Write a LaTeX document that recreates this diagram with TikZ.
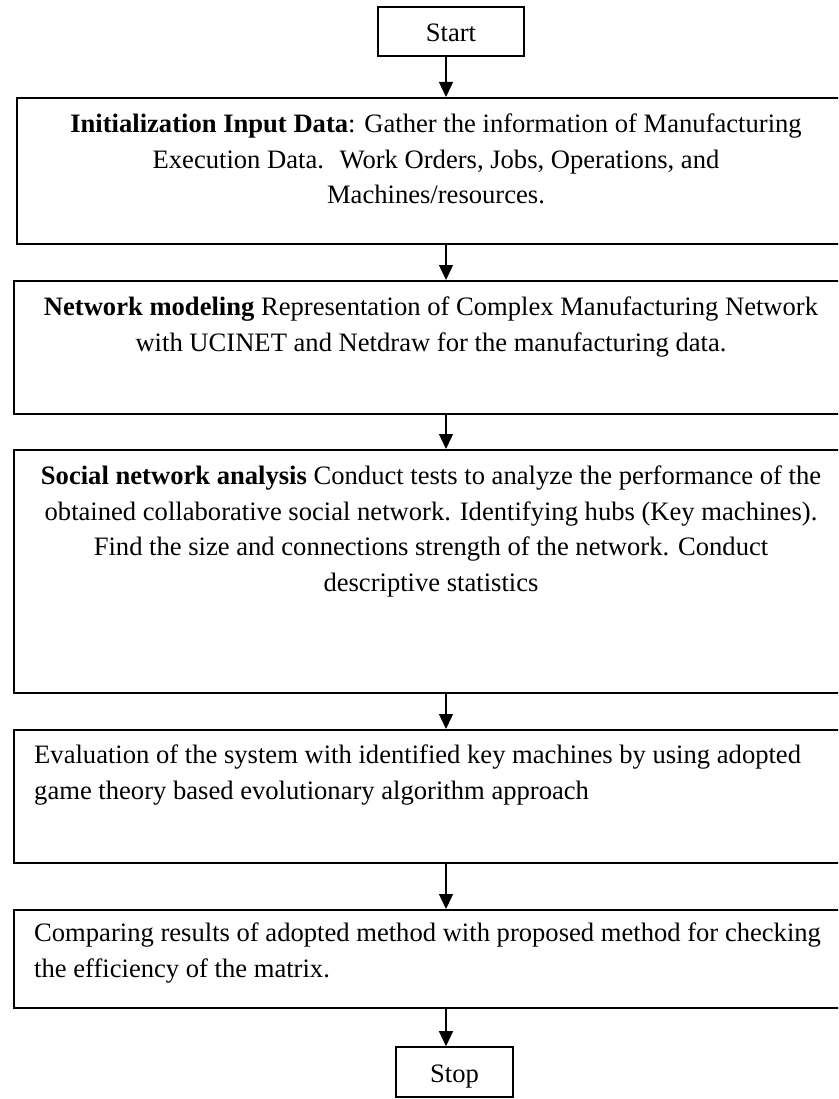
\documentclass[tikz,border=0pt]{standalone}
\usepackage{fontspec}
\setmainfont{Liberation Serif}
\usetikzlibrary{arrows.meta}
\begin{document}
\begin{tikzpicture}[x=1pt,y=-1pt,
  every node/.style={font=\fontsize{26.6}{35.5}\selectfont},
  terminal/.style={draw,line width=1.6pt,inner sep=0pt,text height=20.5pt,text depth=0pt},
  stepbox/.style={draw,line width=1.6pt,inner sep=0pt,anchor=north west,minimum width=867pt},
  ctext/.style={inner sep=0pt,anchor=north,align=center},
  ltext/.style={inner sep=0pt,anchor=north west,align=left},
  arr/.style={line width=1.3pt,-{Triangle[width=14pt,length=15pt]}}]
\useasboundingbox (0,0) rectangle (838,1099);
\clip (0,0) rectangle (838,1099);
\fill[white] (0,0) rectangle (838,1099);

% flow axis
\coordinate (ax) at (446,0);

% terminals
\node[terminal,minimum width=146pt,minimum height=49pt] (start) at (451,31.5) {Start};
\node[terminal,minimum width=117pt,minimum height=50pt] (stop) at (454.5,1072) {Stop};

% process boxes
\node[stepbox,minimum width=864pt,minimum height=146pt] (b1) at (16,97) {};
\node[stepbox,minimum height=133pt] (b2) at (13,280) {};
\node[stepbox,minimum height=243pt] (b3) at (13,449) {};
\node[stepbox,minimum height=133pt] (b4) at (13,729) {};
\node[stepbox,minimum height=98pt] (b5) at (13,909) {};

% box texts
\node[ctext] (t1) at (436,114) {\textbf{Initialization Input Data}: Gather the information of Manufacturing\\
Execution Data.~ Work Orders, Jobs, Operations, and\\
Machines/resources.};
\node[ctext] (t2) at (431,297) {\textbf{Network modeling} Representation of Complex Manufacturing Network\\
with UCINET and Netdraw for the manufacturing data.};
\node[ctext] (t3) at (431,466) {\textbf{Social network analysis} Conduct tests to analyze the performance of the\\
obtained collaborative social network. Identifying hubs (Key machines).\\
Find the size and connections strength of the network. Conduct\\
descriptive statistics};
\node[ltext] (t4) at (34,745) {Evaluation of the system with identified key machines by using adopted\\
game theory based evolutionary algorithm approach};
\node[ltext] (t5) at (34,923) {Comparing results of adopted method with proposed method for checking\\
the efficiency of the matrix.};

% connectors
\draw[arr] (start.south -| ax) -- (b1.north -| ax);
\draw[arr] (b1.south -| ax) -- (b2.north -| ax);
\draw[arr] (b2.south -| ax) -- (b3.north -| ax);
\draw[arr] (b3.south -| ax) -- (b4.north -| ax);
\draw[arr] (b4.south -| ax) -- (b5.north -| ax);
\draw[arr] (b5.south -| ax) -- (stop.north -| ax);
\end{tikzpicture}
\end{document}
